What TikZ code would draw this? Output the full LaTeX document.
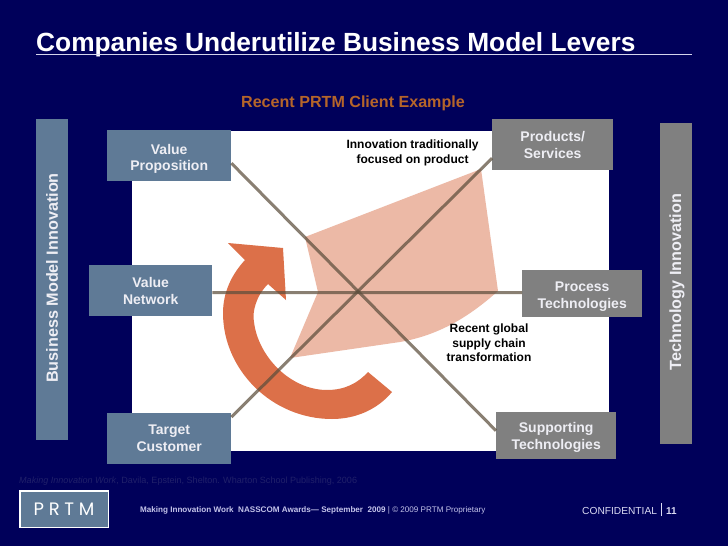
\documentclass[tikz,border=0pt]{standalone}
\usepackage{fontspec}
\setmainfont{Liberation Sans}
\newfontfamily\logofont[LetterSpace=26]{Poppins}
\definecolor{navy}{HTML}{00005A}
\definecolor{slate}{HTML}{5F7A96}
\definecolor{greybox}{HTML}{808080}
\definecolor{ruleline}{HTML}{D4D4EC}
\definecolor{subtitleorange}{HTML}{B5652A}
\definecolor{pinkfill}{HTML}{ECB9A6}
\definecolor{arrowfill}{HTML}{DC7049}
\definecolor{spokeline}{HTML}{5C4E3C}
\definecolor{boxtext}{HTML}{EEEEF4}
\definecolor{citecolor}{HTML}{20206A}
\definecolor{footcolor}{HTML}{C4C4EA}
\definecolor{confcolor}{HTML}{DADAF2}
\tikzset{
  x=1pt,y=-1pt,
  lever/.style={font=\bfseries\fontsize{14}{17}\selectfont,text=boxtext,align=center,inner sep=0pt,anchor=north west},
  slatebox/.style={lever,fill=slate},
  greyboxnode/.style={lever,fill=greybox},
  barlabel/.style={font=\bfseries\fontsize{16.2}{18}\selectfont,text=boxtext,rotate=90,inner sep=0pt},
  callout/.style={font=\bfseries\fontsize{12}{14.6}\selectfont,text=black,align=center,inner sep=0pt},
  spoke/.style={draw=spokeline,line width=3pt,opacity=.72},
}
\begin{document}
\begin{tikzpicture}
\useasboundingbox (0,0) rectangle (728,546);
\fill[navy] (0,0) rectangle (728,546);
% title
\node[anchor=base west,inner sep=0pt,text=white,font=\bfseries\fontsize{26.3}{30}\selectfont] (title) at (36,51) {Companies Underutilize Business Model Levers};
\coordinate (ruleL) at (36,54.5);
\coordinate (ruleR) at (692,54.5);
\draw[ruleline,line width=1.6pt] (ruleL) -- (ruleR);
\node[inner sep=0pt,text=subtitleorange,font=\bfseries\fontsize{16.1}{19}\selectfont] (sub) at (353,103) {Recent PRTM Client Example};
% white panel
\fill[white] (132,130.5) rectangle (609,451);
% pink shape
\fill[pinkfill] (305,237) -- (481,169) -- (498,291) .. controls (470,316) and (440,335) .. (400,342) -- (290,358) -- (318,292) -- cycle;
% curved arrow
\fill[arrowfill] (228,243) -- (283,248) -- (286,300) -- (268,284)
  .. controls (256,296) and (252,312) .. (254,322)
  .. controls (258,356) and (290,390) .. (327,390)
  .. controls (345,390) and (358,383) .. (368,372) -- (392,392)
  .. controls (377,410) and (355,419) .. (332,419)
  .. controls (272,419) and (223,370) .. (223,313)
  .. controls (223,292) and (232,274) .. (245,260) -- cycle;
% bars
\node[fill=slate,minimum width=32pt,minimum height=321pt,inner sep=0pt] (leftbar) at (52,279.5) {};
\node[barlabel] (leftlabel) at (52,278) {Business Model Innovation};
\node[fill=greybox,minimum width=32pt,minimum height=321pt,inner sep=0pt] (rightbar) at (676,283.5) {};
\node[barlabel] (rightlabel) at (677,282) {Technology Innovation};
% lever boxes
\node[slatebox,minimum width=124pt,minimum height=51pt] (vp) at (107,130) {\rule{0pt}{16.5pt}Value\\Proposition};
\node[slatebox,minimum width=123pt,minimum height=51pt] (vn) at (89,265) {Value\\Network};
\node[slatebox,minimum width=124pt,minimum height=51pt] (tc) at (107,412.5) {Target\\Customer};
\node[greyboxnode,minimum width=121pt,minimum height=51pt] (ps) at (492,119) {Products/\\Services};
\node[greyboxnode,minimum width=120pt,minimum height=47pt] (pt) at (522,270) {\rule{0pt}{16pt}Process\\Technologies};
\node[greyboxnode,minimum width=120pt,minimum height=47pt] (st) at (496,412) {\rule{0pt}{14pt}Supporting\\Technologies};
% spokes
\draw[spoke] ([yshift=-7.5pt]vp.east) -- ([yshift=5pt]st.west);
\draw[spoke] ([yshift=-4.5pt]tc.north east) -- ([yshift=-13.5pt]ps.west);
\draw[spoke] ([yshift=-1.9pt]vn.east) -- ([yshift=1pt]pt.west);
% callouts
\node[callout] (inno) at (412.5,153) {Innovation traditionally\\focused on product};
\node[callout] (recent) at (489,343) {Recent global\\supply chain\\transformation};
% footer
\node[anchor=base west,inner sep=0pt,text=citecolor,font=\fontsize{9.05}{11}\selectfont] (cite) at (19,483) {\textit{Making Innovation Work}, Davila, Epstein, Shelton. Wharton School Publishing, 2006};
\node[draw=white,line width=1.5pt,fill=slate,minimum width=88.5pt,minimum height=36.5pt,inner sep=0pt,text=white,font=\logofont\fontsize{18}{20}\selectfont] (logo) at (64,509) {PRTM};
\node[anchor=base west,inner sep=0pt,text=footcolor,font=\fontsize{8.1}{10}\selectfont] (foot) at (140,512) {\textbf{Making Innovation Work\ \ NASSCOM Awards— September\ \ 2009} | © 2009 PRTM Proprietary};
\node[anchor=base west,inner sep=0pt,text=confcolor,font=\fontsize{10.2}{12}\selectfont] (conf) at (582,514) {CONFIDENTIAL};
\coordinate (barT) at (661,503);
\coordinate (barB) at (661,516);
\draw[confcolor,line width=.8pt] (barT) -- (barB);
\node[anchor=base west,inner sep=0pt,text=confcolor,font=\bfseries\fontsize{10}{12}\selectfont] (pg) at (666,514) {11};
\end{tikzpicture}
\end{document}
